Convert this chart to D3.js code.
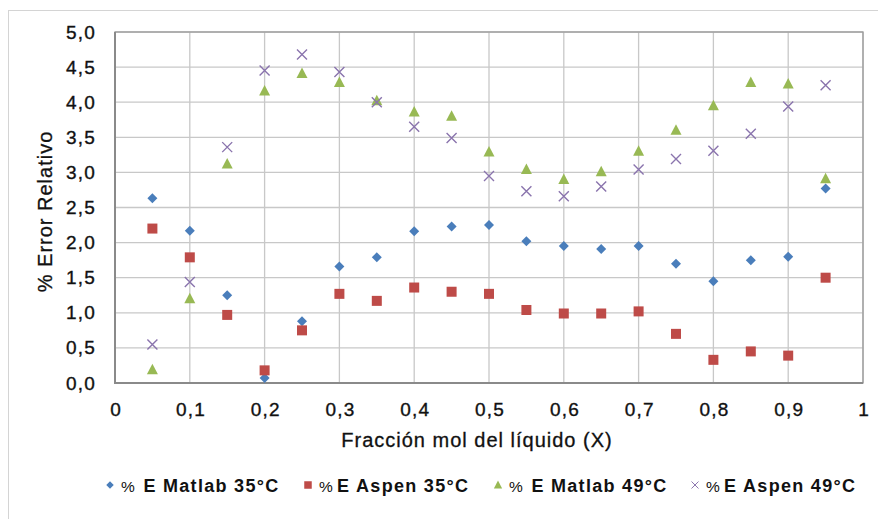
<!DOCTYPE html>
<html>
<head>
<meta charset="utf-8">
<script src="https://cdn.jsdelivr.net/npm/d3@7"></script>
<style>
  body { margin: 0; background: #fff; }
  text { font-family: "Liberation Sans", Arial, sans-serif; }
</style>
</head>
<body>
<div id="chart"></div>
<script>
// data
var fracciones = [0.05, 0.1, 0.15, 0.2, 0.25, 0.3, 0.35, 0.4, 0.45, 0.5, 0.55, 0.6, 0.65, 0.7, 0.75, 0.8, 0.85, 0.9, 0.95];
var matlab35 = [2.63, 2.17, 1.25, 0.07, 0.88, 1.66, 1.79, 2.16, 2.23, 2.25, 2.02, 1.95, 1.91, 1.95, 1.70, 1.45, 1.75, 1.80, 2.77];
var aspen35 = [2.20, 1.79, 0.97, 0.18, 0.75, 1.27, 1.17, 1.36, 1.30, 1.27, 1.04, 0.99, 0.99, 1.02, 0.70, 0.33, 0.45, 0.39, 1.50];
var matlab49 = [0.19, 1.20, 3.12, 4.16, 4.41, 4.28, 4.02, 3.86, 3.80, 3.29, 3.04, 2.90, 3.01, 3.30, 3.60, 3.95, 4.28, 4.26, 2.91];
var aspen49 = [0.55, 1.44, 3.36, 4.45, 4.68, 4.43, 4.00, 3.65, 3.49, 2.95, 2.73, 2.66, 2.80, 3.04, 3.19, 3.31, 3.55, 3.94, 4.24];
var xTicks = [0, 0.1, 0.2, 0.3, 0.4, 0.5, 0.6, 0.7, 0.8, 0.9, 1];
var yTicks = [0, 0.5, 1, 1.5, 2, 2.5, 3, 3.5, 4, 4.5, 5];
var seriesNames = ["% E Matlab 35°C", "% E Aspen 35°C", "% E Matlab 49°C", "% E Aspen 49°C"];

var svgWidth = 878;
var svgHeight = 519;
var margin = { top: 32, right: 15, bottom: 136, left: 115 };
var width = svgWidth - margin.left - margin.right;
var height = svgHeight - margin.top - margin.bottom;

var svg = d3.select("#chart")
  .append("svg")
  .attr("width", svgWidth)
  .attr("height", svgHeight);

// outer chart frame
svg.append("rect")
  .attr("x", 8.5).attr("y", 10.5)
  .attr("width", 880).attr("height", 520)
  .attr("fill", "none")
  .attr("stroke", "#d4d4d4");

var chartGroup = svg.append("g")
  .attr("transform", `translate(${margin.left}, ${margin.top})`);

var x = d3.scaleLinear().domain([0, 1]).range([0, width]);
var y = d3.scaleLinear().domain([0, 5]).range([height, 0]);

var fmt = function(d) { return d3.format(".1f")(d).replace(".", ","); };

// gridlines
chartGroup.append("g")
  .selectAll("line")
  .data(yTicks)
  .enter()
  .append("line")
  .attr("x1", 0).attr("x2", width)
  .attr("y1", d => y(d)).attr("y2", d => y(d))
  .attr("stroke", "#c8c8c8")
  .attr("stroke-width", 1.3);

chartGroup.append("g")
  .selectAll("line")
  .data(xTicks)
  .enter()
  .append("line")
  .attr("x1", d => x(d)).attr("x2", d => x(d))
  .attr("y1", 0).attr("y2", height)
  .attr("stroke", "#c8c8c8")
  .attr("stroke-width", 1.3);

// plot frame
chartGroup.append("rect")
  .attr("width", width).attr("height", height)
  .attr("fill", "none")
  .attr("stroke", "#9a9a9a")
  .attr("stroke-width", 1.3);
chartGroup.append("path")
  .attr("d", `M0,0V${height}H${width}`)
  .attr("fill", "none")
  .attr("stroke", "#8a8a8a")
  .attr("stroke-width", 2);

// axes
var bottomAxis = d3.axisBottom(x).tickValues(xTicks).tickSize(0).tickPadding(20)
  .tickFormat(d => d === 0 || d === 1 ? String(d) : String(d).replace(".", ","));
var leftAxis = d3.axisLeft(y).tickValues(yTicks).tickSize(0).tickPadding(19).tickFormat(fmt);

var xAxisG = chartGroup.append("g")
  .attr("transform", `translate(0, ${height})`)
  .call(bottomAxis);
var yAxisG = chartGroup.append("g")
  .call(leftAxis);
[xAxisG, yAxisG].forEach(function(g) {
  g.select(".domain").remove();
  g.selectAll("text")
    .attr("font-family", "Liberation Sans, Arial, sans-serif")
    .attr("font-size", "19px")
    .attr("letter-spacing", "1.2px")
    .attr("fill", "#111")
    .attr("stroke", "#111")
    .attr("stroke-width", 0.35);
});
xAxisG.selectAll("text").attr("dx", "0.6px");

// axis titles
chartGroup.append("text")
  .attr("x", width / 2 - 12)
  .attr("y", height + 64)
  .attr("text-anchor", "middle")
  .attr("font-size", "20px")
  .attr("letter-spacing", "1px")
  .attr("fill", "#111")
  .attr("stroke", "#111")
  .attr("stroke-width", 0.3)
  .text("Fracción mol del líquido (X)");

chartGroup.append("text")
  .attr("transform", "rotate(-90)")
  .attr("x", -(height / 2) - 4)
  .attr("y", -63)
  .attr("text-anchor", "middle")
  .attr("font-size", "20px")
  .attr("letter-spacing", "1px")
  .attr("fill", "#111")
  .attr("stroke", "#111")
  .attr("stroke-width", 0.3)
  .text("% Error Relativo");

// markers
var colors = ["#4a7ebb", "#be4b48", "#98b954", "#8a74ad"];
var allSeries = [matlab35, aspen35, matlab49, aspen49];

function drawMarker(sel, i) {
  if (i === 0) {
    sel.append("path").attr("d", "M0,-5L5,0L0,5L-5,0Z").attr("fill", colors[0]);
  } else if (i === 1) {
    sel.append("rect").attr("x", -5).attr("y", -5).attr("width", 10).attr("height", 10).attr("fill", colors[1]);
  } else if (i === 2) {
    sel.append("path").attr("d", "M0,-6L5.5,4.5L-5.5,4.5Z").attr("fill", colors[2]);
  } else {
    sel.append("path").attr("d", "M-5,-5L5,5M-5,5L5,-5")
      .attr("stroke", colors[3]).attr("stroke-width", 1.4).attr("fill", "none");
  }
}

allSeries.forEach(function(vals, i) {
  chartGroup.append("g")
    .selectAll("g")
    .data(vals)
    .enter()
    .append("g")
    .attr("transform", (d, j) => `translate(${x(fracciones[j])}, ${y(d)})`)
    .each(function() { drawMarker(d3.select(this), i); });
});

// legend
var legendX = [110, 308, 498, 695];
var legend = svg.append("g").attr("transform", "translate(0, 485)");
seriesNames.forEach(function(name, i) {
  var item = legend.append("g").attr("transform", `translate(${legendX[i]}, 0)`);
  var m = item.append("g").attr("transform", i === 3 ? "scale(0.7)" : "scale(0.75)");
  drawMarker(m, i);
  var t = item.append("text")
    .attr("x", 11)
    .attr("y", 6.5)
    .attr("font-size", "18px")
    .attr("letter-spacing", "1.3px")
    .attr("fill", "#111");
  t.append("tspan").attr("font-weight", "normal").attr("font-size", "15.5px")
    .attr("letter-spacing", "0px")
    .text(i % 2 === 0 ? "%\u00a0\u00a0" : "%\u00a0");
  t.append("tspan").attr("font-weight", "bold").text(name.slice(2));
});
</script>
</body>
</html>
